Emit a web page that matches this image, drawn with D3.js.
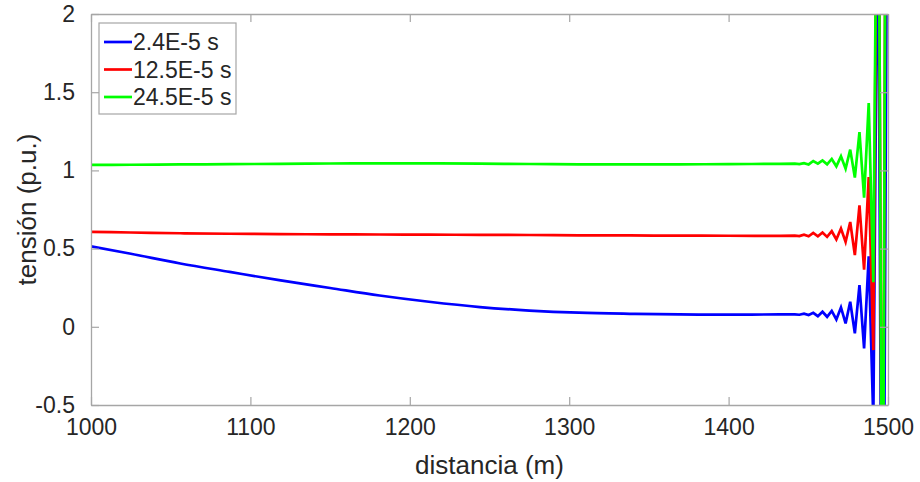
<!DOCTYPE html>
<html>
<head>
<meta charset="utf-8">
<script src="https://d3js.org/d3.v7.min.js"></script>
<style>
  html, body { margin: 0; padding: 0; background: #fff; }
  svg { display: block; font-family: "Liberation Sans", Arial, Helvetica, sans-serif; }
</style>
</head>
<body>
<svg id="chart" width="920" height="482"></svg>
<script>
// Distance along the line (m), shared by the three voltage profiles.
// Smooth stretch first, then the closely sampled stretch near the line end.
const distancia = [
  1000, 1025, 1056, 1087, 1118, 1150, 1181, 1212, 1244, 1275, 1306, 1338, 1369, 1400, 1432,
  1441.5, 1444.4, 1447.3, 1450.2, 1453.1, 1456.0, 1458.9, 1461.8, 1464.7, 1467.6, 1470.5,
  1473.4, 1476.3, 1479.2, 1482.1, 1485.0, 1487.9, 1490.8, 1493.7, 1496.6, 1499.5
];

// Voltage (p.u.) at t = 2.4E-5 s
const tension1 = [
  0.515, 0.467, 0.405, 0.351, 0.298, 0.248, 0.200, 0.160, 0.126, 0.104, 0.090, 0.083, 0.079, 0.078, 0.079,
  0.080, 0.077, 0.084, 0.075, 0.089, 0.068, 0.096, 0.064, 0.102, 0.047, 0.124,
  0.022, 0.160, -0.042, 0.266, -0.138, 0.451, -0.6, 3.0, -3.0, 3.0
];

// Voltage (p.u.) at t = 12.5E-5 s
const tension2 = [
  0.607, 0.603, 0.598, 0.595, 0.593, 0.591, 0.590, 0.589, 0.588, 0.587, 0.585, 0.584, 0.583, 0.582, 0.582,
  0.583, 0.580, 0.589, 0.579, 0.600, 0.579, 0.603, 0.575, 0.611, 0.558, 0.628,
  0.543, 0.670, 0.458, 0.777, 0.366, 0.958, -0.149, 4.0, -2.33, 6.0
];

// Voltage (p.u.) at t = 24.5E-5 s
const tension3 = [
  1.035, 1.036, 1.038, 1.040, 1.042, 1.044, 1.045, 1.045, 1.043, 1.041, 1.039, 1.038, 1.039, 1.040, 1.042,
  1.043, 1.040, 1.046, 1.038, 1.060, 1.043, 1.064, 1.039, 1.073, 1.026, 1.090,
  1.011, 1.133, 0.954, 1.245, 0.826, 1.430, 0.285, 4.0, -2.33, 6.0
];

const seriesNames = ["2.4E-5 s", "12.5E-5 s", "24.5E-5 s"];
const seriesColors = ["#0000ff", "#ff0000", "#00ff00"];

const xTicks = [1000, 1100, 1200, 1300, 1400, 1500];
const yTicks = [-0.5, 0, 0.5, 1, 1.5, 2];

// Number of leading points that form the smooth profile
const smoothCount = 15;

const svg = d3.select("#chart");
const margin = { left: 91, right: 32, top: 14, bottom: 77 };
const W = 920, H = 482;
const x0 = margin.left, x1 = W - margin.right;
const y0 = margin.top, y1 = H - margin.bottom;

const x = d3.scaleLinear().domain([1000, 1500]).range([x0, x1]);
const y = d3.scaleLinear().domain([-0.5, 2]).range([y1, y0]);

const axisColor = "#a6a6a6";
const textColor = "#262626";
const tickFont = "23px";

svg.append("defs").append("clipPath").attr("id", "plotClip")
  .append("rect").attr("x", x0).attr("y", y0).attr("width", x1 - x0).attr("height", y1 - y0);

svg.append("rect").attr("x", x0).attr("y", y0).attr("width", x1 - x0).attr("height", y1 - y0)
  .attr("fill", "#fff");

// Data lines: smooth part drawn with a monotone curve, sampled ringing point to point
const series = [tension1, tension2, tension3];
const smoothLine = d3.line().curve(d3.curveMonotoneX).x(d => x(d[0])).y(d => y(d[1]));
const sharpLine = d3.line().x(d => x(d[0])).y(d => y(d[1]));

function profilePath(vals) {
  const pts = vals.map((v, i) => [distancia[i], v]);
  const a = smoothLine(pts.slice(0, smoothCount));
  const b = sharpLine(pts.slice(smoothCount - 1));
  return a + "L" + b.slice(1);
}

const lines = svg.append("g").attr("clip-path", "url(#plotClip)");
series.forEach((vals, k) => {
  lines.append("path")
    .attr("d", profilePath(vals))
    .attr("fill", "none")
    .attr("stroke", seriesColors[k])
    .attr("stroke-width", 2.7)
    .attr("stroke-linejoin", "miter")
    .attr("stroke-miterlimit", 4);
});

// Axes: bottom/left with inward ticks, mirrored on top/right
const tickLen = 8;
const fmtY = d => (d < 0 ? "-" + Math.abs(d) : String(d));
const axB = d3.axisBottom(x).tickValues(xTicks).tickSizeInner(-tickLen).tickSizeOuter(0).tickPadding(14).tickFormat(d3.format("d"));
const axT = d3.axisTop(x).tickValues(xTicks).tickSizeInner(-tickLen).tickSizeOuter(0).tickFormat("");
const axL = d3.axisLeft(y).tickValues(yTicks).tickSizeInner(-tickLen).tickSizeOuter(0).tickPadding(16).tickFormat(fmtY);
const axR = d3.axisRight(y).tickValues(yTicks).tickSizeInner(-tickLen).tickSizeOuter(0).tickFormat("");

function styleAxis(g) {
  g.select(".domain").attr("stroke", axisColor).attr("stroke-width", 1.3);
  g.selectAll(".tick line").attr("stroke", axisColor).attr("stroke-width", 1.2);
  g.selectAll(".tick text").attr("fill", textColor).style("font-size", tickFont)
    .style("font-family", "'Liberation Sans', Arial, sans-serif");
}

svg.append("g").attr("transform", `translate(0,${y1})`).call(axB).call(styleAxis);
svg.append("g").attr("transform", `translate(0,${y0})`).call(axT).call(styleAxis);
svg.append("g").attr("transform", `translate(${x0},0)`).call(axL).call(styleAxis);
svg.append("g").attr("transform", `translate(${x1},0)`).call(axR).call(styleAxis);

// Axis titles
svg.append("text")
  .attr("x", (x0 + x1) / 2).attr("y", 474)
  .attr("text-anchor", "middle")
  .attr("fill", textColor)
  .style("font-size", "26px")
  .text("distancia (m)");

svg.append("text")
  .attr("transform", `translate(36,${(y0 + y1) / 2}) rotate(-90)`)
  .attr("text-anchor", "middle")
  .attr("fill", textColor)
  .style("font-size", "26px")
  .text("tensión (p.u.)");

// Legend
const lg = svg.append("g");
lg.append("rect").attr("x", 99).attr("y", 23).attr("width", 137).attr("height", 91)
  .attr("fill", "#fff").attr("stroke", axisColor).attr("stroke-width", 1.2);
const rowY = [42, 69.5, 97];
seriesNames.forEach((name, k) => {
  lg.append("line").attr("x1", 104).attr("x2", 132).attr("y1", rowY[k]).attr("y2", rowY[k])
    .attr("stroke", seriesColors[k]).attr("stroke-width", 2.7);
  lg.append("text").attr("x", 133).attr("y", rowY[k]).attr("dy", "0.36em")
    .attr("fill", textColor).style("font-size", "23px").text(name);
});
</script>
</body>
</html>
